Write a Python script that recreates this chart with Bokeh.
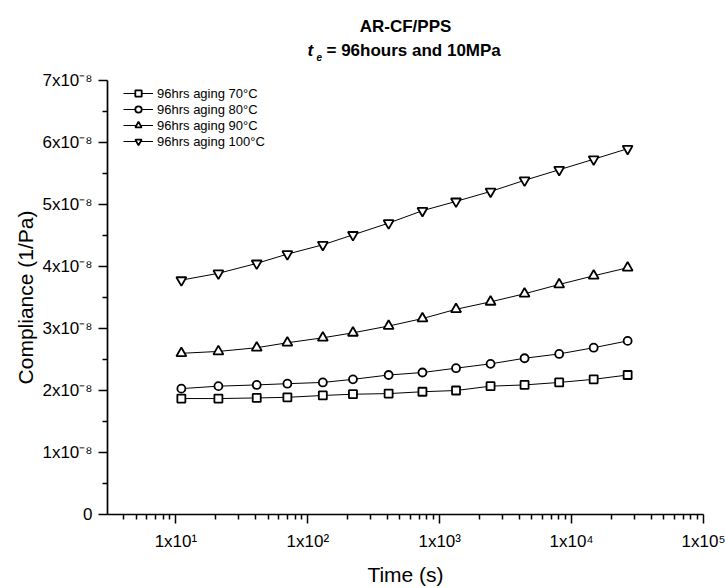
from bokeh.plotting import figure
from bokeh.layouts import column
from bokeh.models import Range1d, FixedTicker, Legend, LegendItem
from bokeh.core.properties import value
from bokeh.embed import file_html
from bokeh.resources import INLINE

# ---------------- data ----------------
time_s = [11, 21, 41, 70, 130, 220, 410, 740, 1330, 2430, 4400, 8050, 14700, 26600]

aging_70C = [1.87e-8, 1.87e-8, 1.88e-8, 1.89e-8, 1.92e-8, 1.94e-8, 1.95e-8,
             1.98e-8, 2.00e-8, 2.07e-8, 2.09e-8, 2.13e-8, 2.18e-8, 2.25e-8]
aging_80C = [2.03e-8, 2.07e-8, 2.09e-8, 2.11e-8, 2.13e-8, 2.18e-8, 2.25e-8,
             2.29e-8, 2.36e-8, 2.43e-8, 2.52e-8, 2.59e-8, 2.69e-8, 2.80e-8]
aging_90C = [2.60e-8, 2.63e-8, 2.69e-8, 2.77e-8, 2.85e-8, 2.93e-8, 3.04e-8,
             3.16e-8, 3.31e-8, 3.43e-8, 3.56e-8, 3.71e-8, 3.85e-8, 3.98e-8]
aging_100C = [3.78e-8, 3.89e-8, 4.05e-8, 4.20e-8, 4.35e-8, 4.51e-8, 4.70e-8,
              4.90e-8, 5.05e-8, 5.21e-8, 5.39e-8, 5.56e-8, 5.73e-8, 5.90e-8]

series_labels = ["96hrs aging 70°C", "96hrs aging 80°C",
                 "96hrs aging 90°C", "96hrs aging 100°C"]

x_tick_values = [10, 100, 1000, 10000, 100000]
x_tick_labels = ["1x10¹", "1x10²", "1x10³", "1x10⁴", "1x10⁵"]
y_tick_values = [0, 1e-8, 2e-8, 3e-8, 4e-8, 5e-8, 6e-8, 7e-8]
y_tick_labels = ["0", "1x10⁻⁸", "2x10⁻⁸", "3x10⁻⁸", "4x10⁻⁸",
                 "5x10⁻⁸", "6x10⁻⁸", "7x10⁻⁸"]
y_minor_values = [0.5e-8, 1.5e-8, 2.5e-8, 3.5e-8, 4.5e-8, 5.5e-8, 6.5e-8]

title_line1 = "AR-CF/PPS"
title_t = "t"
title_sub = "e"
title_rest = "= 96hours and 10MPa"

FONT = "Liberation Sans"
LEFT, RIGHT = 107, 22

# ---------------- title strip (pixel-mapped: x = canvas px, y = px from top) ----------------
pt = figure(width=725, height=70, x_range=Range1d(LEFT, 725 - RIGHT),
            y_range=Range1d(70, 0),
            output_backend="svg", toolbar_location=None, title=None,
            x_axis_location=None, y_axis_location=None,
            min_border_left=LEFT, min_border_right=RIGHT,
            min_border_top=0, min_border_bottom=0)
pt.outline_line_color = None
pt.xgrid.visible = False
pt.ygrid.visible = False
tcommon = dict(text_font=value(FONT), text_color="black",
               text_baseline="alphabetic")
pt.text(x=[405], y=[26], text=[title_line1], text_align="center",
        text_font_size="17px", text_font_style="bold", **tcommon)
pt.text(x=[307], y=[50], text=[title_t], text_align="left",
        text_font_size="17px", text_font_style="bold italic", **tcommon)
pt.text(x=[316], y=[56], text=[title_sub], text_align="left",
        text_font_size="10px", text_font_style="bold italic", **tcommon)
pt.text(x=[326], y=[50], text=[title_rest], text_align="left",
        text_font_size="17px", text_font_style="bold", **tcommon)

# ---------------- main figure ----------------
p = figure(width=725, height=518, x_axis_type="log",
           x_range=Range1d(3.03, 1e5), y_range=Range1d(0, 7e-8),
           output_backend="svg", toolbar_location=None, title=None,
           min_border_left=LEFT, min_border_right=RIGHT,
           min_border_top=10, min_border_bottom=72)
p.outline_line_color = None
p.xgrid.visible = False
p.ygrid.visible = False

x_minor = [m * 10 ** k for k in range(0, 5) for m in range(2, 10)]
p.xaxis.ticker = FixedTicker(ticks=x_tick_values, minor_ticks=x_minor)
p.xaxis.major_label_overrides = dict(zip(x_tick_values, x_tick_labels))
p.yaxis.ticker = FixedTicker(ticks=y_tick_values, minor_ticks=y_minor_values)
p.yaxis.major_label_overrides = dict(zip(y_tick_values, y_tick_labels))

for ax in (p.xaxis[0], p.yaxis[0]):
    ax.axis_line_width = 1.7
    ax.axis_line_color = "black"
    ax.major_tick_line_width = 1.5
    ax.minor_tick_line_width = 1.5
    ax.major_tick_line_color = "black"
    ax.minor_tick_line_color = "black"
    ax.major_tick_in = 0
    ax.major_tick_out = 9
    ax.minor_tick_in = 0
    ax.minor_tick_out = 5
    ax.major_label_text_font = FONT
    ax.major_label_text_font_size = "17px"
    ax.major_label_text_color = "black"
    ax.axis_label_text_font = FONT
    ax.axis_label_text_font_size = "21px"
    ax.axis_label_text_font_style = "normal"
    ax.axis_label_text_color = "black"

p.xaxis.axis_label = "Time (s)"
p.yaxis.axis_label = "Compliance (1/Pa)"
p.xaxis.major_label_standoff = 8
p.xaxis.axis_label_standoff = 9
p.yaxis.major_label_standoff = 6
p.yaxis.axis_label_standoff = 2

# ---------------- series ----------------
markers = ["square", "circle", "triangle", "inverted_triangle"]
sizes = [8, 8, 10, 10]
items = []
for vals, lab, mk, sz in zip([aging_70C, aging_80C, aging_90C, aging_100C],
                             series_labels, markers, sizes):
    lr = p.line(time_s, vals, line_color="black", line_width=1)
    sr = p.scatter(time_s, vals, marker=mk, size=sz, fill_color="white",
                   line_color="black", line_width=1.8)
    items.append(LegendItem(label=lab, renderers=[lr, sr]))

legend = Legend(items=items, location=(16, 365), padding=0, margin=0,
                spacing=0, glyph_width=30, glyph_height=16, label_height=16,
                label_standoff=4, border_line_color=None,
                background_fill_alpha=0,
                label_text_font=FONT, label_text_font_size="13px",
                label_text_color="black")
p.add_layout(legend)

layout = column(pt, p, spacing=0)
open("out.html", "w").write(file_html(layout, INLINE))
